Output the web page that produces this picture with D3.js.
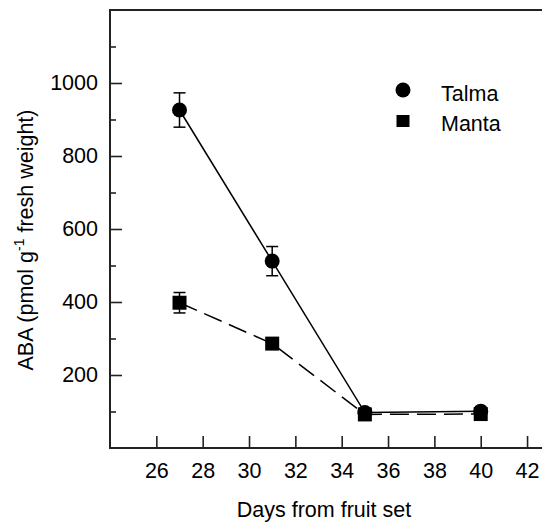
<!DOCTYPE html>
<html>
<head>
<meta charset="utf-8">
<script src="https://cdn.jsdelivr.net/npm/d3@7"></script>
<style>
  html, body { margin: 0; padding: 0; background: #fff; }
  svg { display: block; }
  text { font-family: Arial, "Liberation Sans", Helvetica, sans-serif; fill: #000; }
</style>
</head>
<body>
<svg id="chart" width="542" height="523"></svg>
<script>
// ---- data ----
const days = [27, 31, 35, 40];
const talma = [926, 512, 97, 101];
const talmaErr = [47, 40, 0, 0];
const manta = [398, 286, 92, 93];
const mantaErr = [28, 10, 0, 0];
const xTicks = [26, 28, 30, 32, 34, 36, 38, 40, 42];
const yMajorTicks = [200, 400, 600, 800, 1000];
const yMinorTicks = [100, 300, 500, 700, 900, 1100];
const seriesNames = ["Talma", "Manta"];

(function () {
const svg = d3.select("#chart");
const pLeft = 110, pTop = 10, pBottom = 448;
const pxPerDay = 23.17;
const x = d3.scaleLinear().domain([24, 44]).range([pLeft, pLeft + 20 * pxPerDay]);
const y = d3.scaleLinear().domain([0, 1200]).range([pBottom, pTop]);

const axisColor = "#222";
const fontFam = "Arial, 'Liberation Sans', sans-serif";
const fs = 21.5;

// x axis (ticks inside)
const gx = svg.append("g").attr("transform", `translate(0,${pBottom})`)
  .call(d3.axisBottom(x).tickValues(xTicks).tickSizeInner(-12).tickSizeOuter(0).tickPadding(15).tickFormat(d3.format("d")));
gx.select(".domain").remove();
gx.selectAll(".tick line").attr("stroke", axisColor).attr("stroke-width", 1.6);
gx.selectAll(".tick text").attr("font-size", fs).attr("font-family", fontFam).attr("fill", "#000");

// y axis major
const gy = svg.append("g").attr("transform", `translate(${pLeft},0)`)
  .call(d3.axisLeft(y).tickValues(yMajorTicks).tickSizeInner(-12).tickSizeOuter(0).tickPadding(12).tickFormat(d3.format("d")));
gy.select(".domain").remove();
gy.selectAll(".tick line").attr("stroke", axisColor).attr("stroke-width", 1.6);
gy.selectAll(".tick text").attr("font-size", fs).attr("font-family", fontFam).attr("fill", "#000");

// y axis minor
const gym = svg.append("g").attr("transform", `translate(${pLeft},0)`)
  .call(d3.axisLeft(y).tickValues(yMinorTicks).tickSizeInner(-6).tickSizeOuter(0).tickFormat(""));
gym.select(".domain").remove();
gym.selectAll(".tick line").attr("stroke", axisColor).attr("stroke-width", 1.6);

// frame lines: left, bottom, top
svg.append("line").attr("x1", pLeft).attr("x2", pLeft).attr("y1", pTop).attr("y2", pBottom)
  .attr("stroke", axisColor).attr("stroke-width", 2);
svg.append("line").attr("x1", pLeft - 1).attr("x2", 542).attr("y1", pBottom).attr("y2", pBottom)
  .attr("stroke", axisColor).attr("stroke-width", 2);
svg.append("line").attr("x1", pLeft - 1).attr("x2", 542).attr("y1", pTop).attr("y2", pTop)
  .attr("stroke", axisColor).attr("stroke-width", 2);

// axis titles
svg.append("text").attr("x", 324).attr("y", 517).attr("text-anchor", "middle")
  .attr("font-size", fs).text("Days from fruit set");

const yt = svg.append("text").attr("transform", `translate(33,240) rotate(-90)`)
  .attr("text-anchor", "middle").attr("font-size", fs);
yt.append("tspan").text("ABA (pmol g");
yt.append("tspan").attr("font-size", 14).attr("dy", -9).text("-1");
yt.append("tspan").attr("dy", 9).text(" fresh weight)");

// lines
const line = d3.line().x(d => x(d[0])).y(d => y(d[1]));
const talmaPts = days.map((d, i) => [d, talma[i]]);
const mantaPts = days.map((d, i) => [d, manta[i]]);

svg.append("path").datum(mantaPts).attr("d", line).attr("fill", "none")
  .attr("stroke", "#000").attr("stroke-width", 1.5).attr("stroke-dasharray", "19,8");
svg.append("path").datum(talmaPts).attr("d", line).attr("fill", "none")
  .attr("stroke", "#000").attr("stroke-width", 1.5);

// error bars
function errBars(vals, errs) {
  const g = svg.append("g").attr("stroke", "#000").attr("stroke-width", 1.5);
  days.forEach((d, i) => {
    if (!errs[i]) return;
    const cx = x(d), y1 = y(vals[i] + errs[i]), y2 = y(vals[i] - errs[i]);
    g.append("line").attr("x1", cx).attr("x2", cx).attr("y1", y1).attr("y2", y2);
    g.append("line").attr("x1", cx - 6).attr("x2", cx + 6).attr("y1", y1).attr("y2", y1);
    g.append("line").attr("x1", cx - 6).attr("x2", cx + 6).attr("y1", y2).attr("y2", y2);
  });
}
errBars(talma, talmaErr);
errBars(manta, mantaErr);

// markers
svg.append("g").selectAll("rect").data(mantaPts).join("rect")
  .attr("x", d => x(d[0]) - 7).attr("y", d => y(d[1]) - 7)
  .attr("width", 14).attr("height", 14).attr("fill", "#000");
svg.append("g").selectAll("circle").data(talmaPts).join("circle")
  .attr("cx", d => x(d[0])).attr("cy", d => y(d[1])).attr("r", 7.5).attr("fill", "#000");

// legend
const lg = svg.append("g");
lg.append("circle").attr("cx", 403).attr("cy", 90).attr("r", 7.5).attr("fill", "#000");
lg.append("text").attr("x", 441).attr("y", 101).attr("font-size", fs).text(seriesNames[0]);
lg.append("rect").attr("x", 396.5).attr("y", 115).attr("width", 13).attr("height", 12).attr("fill", "#000");
lg.append("text").attr("x", 441).attr("y", 131).attr("font-size", fs).text(seriesNames[1]);
})();
</script>
</body>
</html>
